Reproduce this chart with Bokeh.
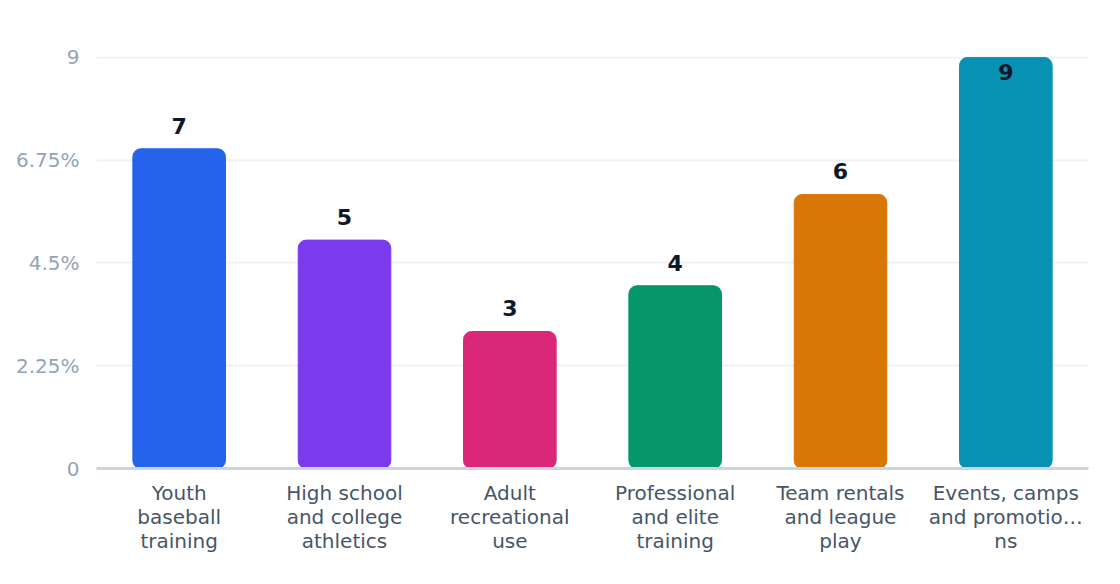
from bokeh.plotting import figure
from bokeh.models import ColumnDataSource, FixedTicker
from bokeh.core.properties import value
from bokeh.embed import file_html
from bokeh.resources import INLINE

categories = [
    "Youth\nbaseball\ntraining",
    "High school\nand college\nathletics",
    "Adult\nrecreational\nuse",
    "Professional\nand elite\ntraining",
    "Team rentals\nand league\nplay",
    "Events, camps\nand promotio…\nns",
]
values = [7, 5, 3, 4, 6, 9]
colors = ["#2563eb", "#7c3aed", "#db2777", "#059669", "#d97706", "#0891b2"]
tick_values = [0, 2.25, 4.5, 6.75, 9]
tick_labels = ["0", "2.25%", "4.5%", "6.75%", "9"]

y_max = 9

# labels sit above the bar, except where the bar reaches the top of the frame
baselines = ["top" if v >= y_max else "bottom" for v in values]
offsets = [7 if v >= y_max else -15 for v in values]

source = ColumnDataSource(dict(
    cat=categories, val=values, color=colors,
    label=[str(v) for v in values], baseline=baselines, offset=offsets,
))

p = figure(x_range=categories, y_range=(0, y_max + 0.02), width=1104, height=568,
           output_backend="svg", toolbar_location=None,
           min_border_left=96, min_border_right=16, min_border_top=56, min_border_bottom=100)
p.outline_line_color = None
p.background_fill_color = "white"
p.border_fill_color = "white"

p.vbar(x="cat", top="val", width=0.56, color="color", source=source, border_radius=8)

p.text(x="cat", y="val", text="label", source=source,
       text_align="center", text_baseline="baseline", y_offset="offset",
       text_font=value("DejaVu Sans"), text_font_style="bold",
       text_font_size="22px", text_color="#0f172a")

p.yaxis.ticker = FixedTicker(ticks=tick_values)
p.yaxis.major_label_overrides = {t: l for t, l in zip(tick_values, tick_labels)}
p.yaxis.axis_line_color = None
p.yaxis.major_tick_line_color = None
p.yaxis.minor_tick_line_color = None
p.yaxis.major_label_text_color = "#94a3b8"
p.yaxis.major_label_text_font = "DejaVu Sans"
p.yaxis.major_label_text_font_size = "20px"
p.yaxis.major_label_standoff = 11

p.xaxis.axis_line_color = "#cbd5e1"
p.xaxis.axis_line_width = 3
p.xaxis.major_tick_line_color = None
p.xaxis.minor_tick_line_color = None
p.xaxis.major_label_text_color = "#475569"
p.xaxis.major_label_text_font = "DejaVu Sans"
p.xaxis.major_label_text_font_size = "20px"
p.xaxis.major_label_text_line_height = 1.0
p.xaxis.major_label_standoff = 6
p.xaxis.major_label_orientation = "horizontal"

p.xgrid.grid_line_color = None
p.ygrid.grid_line_color = "#eef2f6"
p.ygrid.grid_line_width = 2
p.x_range.range_padding = 0

open("out.html", "w").write(file_html(p, INLINE))
